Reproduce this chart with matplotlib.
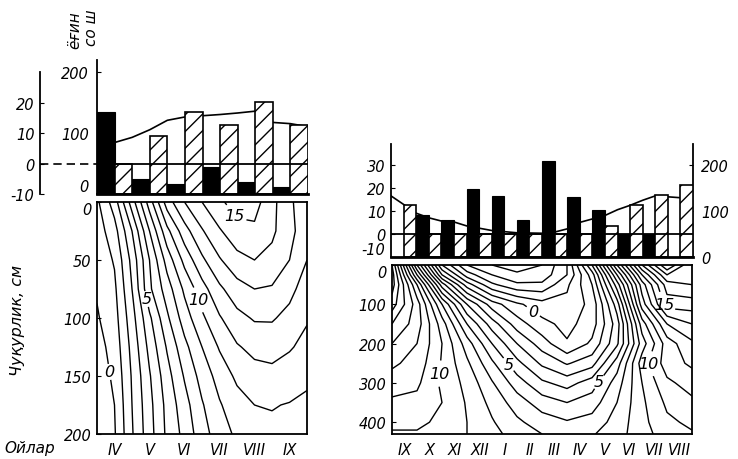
import numpy as np
import matplotlib
matplotlib.use('Agg')
import matplotlib.pyplot as plt
from matplotlib.transforms import blended_transform_factory

plt.rcParams['font.family'] = ['DejaVu Sans']
plt.rcParams['hatch.linewidth'] = 1.0
plt.rcParams['contour.negative_linestyle'] = 'solid'

# ---------------- data: left station (IV..IX) ----------------
months_left = ['IV', 'V', 'VI', 'VII', 'VIII', 'IX']
precip_left = [135, 24, 16, 45, 19, 11]            # black bars, mm
temp_bar_left = [0, 9.2, 17.0, 12.5, 20.3, 12.5]   # hatched bars, deg C
line_x_left = [0, 0.5, 1.0, 1.5, 2.0, 2.5, 3.0, 3.5, 4.0, 4.5, 5.0, 5.5, 6.0]
line_t_left = [6.0, 6.9, 8.6, 11.1, 14.2, 15.3, 15.7, 16.1, 16.6, 17.2, 13.5, 13.1, 12.1]

grid_x_left = [0, 0.5, 1.0, 1.5, 2.0, 2.5, 3.0, 3.5, 4.0, 4.5, 5.0, 5.5, 6.0]
grid_depth_left = [0, 25, 50, 75, 100, 125, 150, 175, 200]
soil_t_left = [
    [0.8, 2.5, 5.5, 8.5, 11.5, 13.0, 14.0, 14.8, 15.5, 15.4, 14.3, 13.2, 12.3],
    [0.5, 1.6, 4.0, 7.0, 9.7, 11.6, 12.9, 13.9, 14.6, 14.8, 14.2, 13.3, 12.4],
    [0.3, 1.1, 3.3, 6.0, 8.4, 10.3, 11.8, 12.9, 13.7, 14.0, 13.7, 13.0, 12.0],
    [0.1, 0.8, 3.0, 5.8, 7.5, 9.2, 10.6, 11.8, 12.6, 13.0, 12.9, 12.3, 11.5],
    [-0.1, 0.6, 2.6, 4.8, 6.8, 8.5, 9.8, 10.9, 11.7, 12.1, 12.1, 11.7, 11.1],
    [-0.4, 0.4, 2.3, 4.3, 6.1, 7.7, 9.0, 10.1, 10.9, 11.3, 11.4, 11.1, 10.7],
    [-0.6, 0.2, 2.1, 3.9, 5.6, 7.1, 8.4, 9.4, 10.2, 10.6, 10.7, 10.5, 10.2],
    [-0.8, 0.0, 2.0, 3.7, 5.3, 6.6, 7.9, 8.9, 9.6, 10.0, 10.05, 9.95, 9.8],
    [-0.9, -0.1, 1.9, 3.6, 5.2, 6.3, 7.6, 8.5, 9.2, 9.6, 9.8, 9.8, 9.7],
]
levels_left = list(range(-1, 17))
label_pos_left = [(0.46, 146), (1.36, 84), (2.93, 84), (4.0, 10)]

# ---------------- data: right station (IX..VIII) ----------------
months_right = ['IX', 'X', 'XI', 'XII', 'I', 'II', 'III', 'IV', 'V', 'VI', 'VII', 'VIII']
precip_right = [0, 91, 80, 148, 133, 80, 209, 130, 102, 50, 50, 0]
temp_bar_right = [12.6, 0, 0, 0, 0, 0, 0, 0, 3.5, 12.6, 17.0, 21.3]
line_x_right = [0, 0.5, 1.0, 1.5, 2.0, 2.5, 3, 4, 5, 6, 6.5, 7, 7.5, 8, 8.5, 9, 9.5, 10, 10.5, 11, 11.5, 12]
line_t_right = [16.5, 12.8, 9.0, 7.0, 5.6, 5.2, 3.5, 1.5, 0.5, 0.3, 0.8, 2.2, 5.0, 6.5, 8.0,
                10.5, 12.4, 14.6, 16.5, 16.1, 15.7, 15.7]

grid_x_right = [0, 1, 2, 3, 4, 5, 6, 7, 8, 9, 10, 11, 12]
grid_depth_right = [0, 25, 50, 100, 150, 200, 250, 300, 350, 400, 430]
soil_t_right = [
    [16.0, 7.0, 0.0, -3.0, -4.0, -4.5, -4.0, -2.0, 3.0, 10.0, 16.0, 20.0, 17.0],
    [16.5, 9.0, 2.0, -1.5, -3.0, -3.8, -3.6, -2.0, 1.5, 8.0, 14.0, 18.0, 17.5],
    [16.5, 11.0, 4.5, 0.5, -1.8, -2.8, -2.8, -1.2, 1.0, 6.5, 12.5, 16.5, 17.0],
    [15.5, 12.5, 8.0, 4.0, 1.5, 0.2, -0.6, -0.7, 0.3, 4.5, 11.5, 15.5, 15.5],
    [14.0, 12.5, 9.5, 6.0, 3.5, 1.5, 0.3, -0.3, 0.5, 3.5, 9.5, 13.0, 14.0],
    [13.0, 12.0, 10.0, 7.5, 5.0, 3.0, 1.5, 0.1, 1.2, 3.8, 8.5, 11.5, 12.8],
    [12.2, 11.6, 9.9, 8.2, 6.2, 4.3, 2.8, 1.9, 2.6, 5.5, 9.5, 11.5, 12.2],
    [11.5, 11.2, 9.8, 8.7, 7.1, 5.5, 4.2, 3.6, 4.5, 6.5, 9.0, 10.8, 11.4],
    [10.8, 10.7, 10.0, 8.9, 7.7, 6.5, 5.5, 5.0, 5.5, 7.0, 8.8, 10.2, 10.8],
    [10.2, 10.2, 9.8, 9.0, 8.1, 7.2, 6.5, 6.1, 6.4, 7.4, 8.7, 9.8, 10.2],
    [9.9, 9.9, 9.6, 9.0, 8.3, 7.6, 7.0, 6.7, 6.9, 7.6, 8.6, 9.5, 9.9],
]
levels_right = list(range(-4, 21))
label_pos_right = [(5.64, 119), (4.72, 250), (8.2, 294), (1.84, 276), (10.0, 258), (10.8, 104)]

labelled_levels = [0, 5, 10, 15]

ylabel_text = 'Чуқурлик, см'
xlabel_text = 'Ойлар'
top_label_1 = 'ёғин'
top_label_2 = 'со ш'

# ---------------- helpers ----------------
def t2p(t):
    return (np.asarray(t, dtype=float) + 10.0) * 5.0

def p2t(p):
    return np.asarray(p, dtype=float) / 5.0 - 10.0

W, H = 738, 460
fig = plt.figure(figsize=(W / 100, H / 100), dpi=100)

def rect(x0, y0, x1, y1):
    return [x0 / W, 1 - y1 / H, (x1 - x0) / W, (y1 - y0) / H]

TICKFONT = dict(fontsize=10.5, fontstyle='italic')

def draw_bars(ax, n, precip, tbar, lx, lt):
    x = np.arange(n)
    ax.plot(lx, lt, color='k', lw=1.2, zorder=1)
    ax.bar(x, p2t(precip) + 10, width=0.5, bottom=-10, align='edge',
           color='k', edgecolor='k', lw=0.8, zorder=2)
    ax.bar(x + 0.5, np.asarray(tbar) + 10, width=0.5, bottom=-10, align='edge',
           facecolor='white', edgecolor='k', hatch='//', lw=1.2, zorder=2)
    ax.axhline(0, color='k', lw=1.3, zorder=3)
    ax.set_xlim(0, n)
    ax.set_xticks([])
    ax.spines['top'].set_visible(False)
    ax.spines['bottom'].set_linewidth(2.0)
    for s in ax.spines.values():
        s.set_zorder(4)

def draw_contours(ax, gx, gd, field, levels, label_pos):
    X, Y = np.meshgrid(gx, gd)
    Z = np.array(field)
    plain = [lv for lv in levels if lv not in labelled_levels]
    ax.contour(X, Y, Z, levels=plain, colors='k', linewidths=1.0,
               linestyles='solid')
    lab = [lv for lv in levels if lv in labelled_levels]
    cs = ax.contour(X, Y, Z, levels=lab, colors='k', linewidths=1.0,
                    linestyles='solid')
    texts = ax.clabel(cs, manual=label_pos, fmt='%d', fontsize=11.5,
                      inline=True, inline_spacing=3)
    for t in texts:
        t.set_fontstyle('italic')
        t.set_rotation(0)
    for s in ax.spines.values():
        s.set_linewidth(1.3)

def first_label_top(ax):
    labs = ax.get_yticklabels()
    labs[0].set_verticalalignment('top')

# ---------------- left bars ----------------
axLb = fig.add_axes(rect(97, 61, 308, 195))
draw_bars(axLb, 6, precip_left, temp_bar_left, line_x_left, line_t_left)
axLb.set_ylim(-10, 34)
axLb.spines['right'].set_visible(False)
axLb.spines['left'].set_position(('axes', -0.27))
axLb.spines['left'].set_bounds(-10, 30)
axLb.spines['left'].set_linewidth(1.3)
axLb.set_yticks([-10, 0, 10, 20])
axLb.set_yticklabels(['-10', '0', '10', '20'], **TICKFONT)
axLb.tick_params(axis='y', direction='in', length=3, pad=4)
trans = blended_transform_factory(axLb.transAxes, axLb.transData)
axLb.plot([-0.27, 0], [0, 0], transform=trans, clip_on=False, color='k',
          lw=1.2, ls=(0, (5, 3)))
secL = axLb.secondary_yaxis('left', functions=(t2p, p2t))
secL.set_yticks([0, 100, 200])
secL.set_yticklabels(['0', '100', '200'], **TICKFONT)
secL.get_yticklabels()[0].set_verticalalignment('bottom')
secL.spines['left'].set_linewidth(1.3)
secL.tick_params(axis='y', direction='in', length=3, pad=6)

# ---------------- left contours ----------------
axLc = fig.add_axes(rect(97, 203, 307, 435))
axLc.set_xlim(0, 6)
axLc.set_ylim(200, 0)
draw_contours(axLc, grid_x_left, grid_depth_left, soil_t_left, levels_left, label_pos_left)
axLc.set_xlim(0, 6)
axLc.set_ylim(200, 0)
axLc.set_xticks(np.arange(6) + 0.5)
axLc.set_xticklabels(months_left, **TICKFONT)
axLc.set_yticks([0, 50, 100, 150, 200])
axLc.set_yticklabels(['0', '50', '100', '150', '200'], **TICKFONT)
first_label_top(axLc)
axLc.tick_params(axis='x', length=0, pad=6)
axLc.tick_params(axis='y', direction='in', length=3, pad=4)

# ---------------- right bars ----------------
axRb = fig.add_axes(rect(391, 145, 693, 258))
draw_bars(axRb, 12, precip_right, temp_bar_right, line_x_right, line_t_right)
axRb.set_ylim(-10, 39)
axRb.spines['right'].set_visible(False)
axRb.spines['left'].set_linewidth(1.3)
axRb.set_yticks([-10, 0, 10, 20, 30])
axRb.set_yticklabels(['-10', '0', '10', '20', '30'], **TICKFONT)
axRb.get_yticklabels()[0].set_verticalalignment('bottom')
axRb.tick_params(axis='y', direction='in', length=3, pad=4)
secR = axRb.secondary_yaxis('right', functions=(t2p, p2t))
secR.set_yticks([0, 100, 200])
secR.set_yticklabels(['0', '100', '200'], **TICKFONT)
secR.spines['right'].set_linewidth(1.3)
secR.tick_params(axis='y', direction='in', length=3, pad=6)

# ---------------- right contours ----------------
axRc = fig.add_axes(rect(392, 266, 692, 435))
axRc.set_xlim(0, 12)
axRc.set_ylim(430, 0)
draw_contours(axRc, grid_x_right, grid_depth_right, soil_t_right, levels_right, label_pos_right)
axRc.set_xlim(0, 12)
axRc.set_ylim(430, 0)
axRc.set_xticks(np.arange(12) + 0.5)
axRc.set_xticklabels(months_right, **TICKFONT)
axRc.set_yticks([0, 100, 200, 300, 400])
axRc.set_yticklabels(['0', '100', '200', '300', '400'], **TICKFONT)
first_label_top(axRc)
axRc.tick_params(axis='x', length=0, pad=6)
axRc.tick_params(axis='y', direction='in', length=3, pad=4)

# ---------------- free texts ----------------
fig.text(18 / W, 1 - 320 / H, ylabel_text, rotation=90, ha='center', va='center',
         fontsize=11.5, fontstyle='italic')
fig.text(4 / W, 1 - 449 / H, xlabel_text, ha='left', va='center',
         fontsize=11, fontstyle='italic')
fig.text(75 / W, 1 - 30 / H, top_label_1, rotation=90, ha='center', va='center',
         fontsize=11, fontstyle='italic')
fig.text(92 / W, 1 - 28 / H, top_label_2, rotation=90, ha='center', va='center',
         fontsize=11, fontstyle='italic')

fig.savefig('out.png', dpi=100)
